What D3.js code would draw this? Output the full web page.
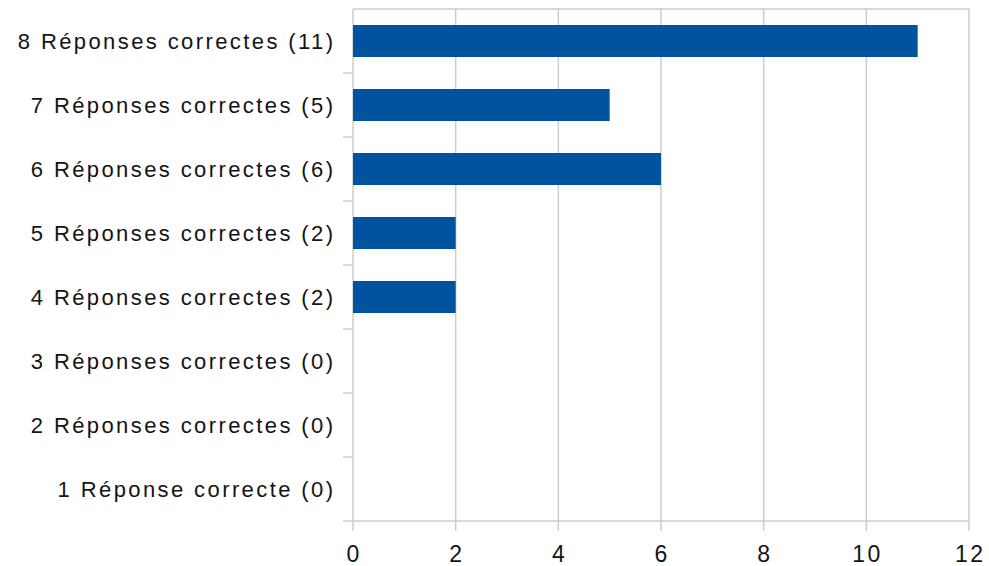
<!DOCTYPE html>
<html>
<head>
<meta charset="utf-8">
<script src="https://cdn.jsdelivr.net/npm/d3@7"></script>
<style>
  body { margin: 0; background: #fff; }
  text { font-family: "Liberation Sans", Arial, sans-serif; }
</style>
</head>
<body>
<svg></svg>
<script>
// categories from top to bottom
var categories = [
  "8 Réponses correctes (11)",
  "7 Réponses correctes (5)",
  "6 Réponses correctes (6)",
  "5 Réponses correctes (2)",
  "4 Réponses correctes (2)",
  "3 Réponses correctes (0)",
  "2 Réponses correctes (0)",
  "1 Réponse correcte (0)"
];
var counts = [11, 5, 6, 2, 2, 0, 0, 0];
var xTicks = [0, 2, 4, 6, 8, 10, 12];

var svgWidth = 989, svgHeight = 566;
var plotLeft = 353, plotRight = 969, plotTop = 9, plotBottom = 521;
var spacing = 2.4;

var svg = d3.select("svg")
    .attr("width", svgWidth)
    .attr("height", svgHeight);

var x = d3.scaleLinear().domain([0, 12]).range([plotLeft, plotRight]);
var y = d3.scaleBand().domain(categories).range([plotTop, plotBottom]).paddingInner(0.5).paddingOuter(0.25);

var gridColor = "#cccccc";

// vertical grid lines
svg.selectAll("line.grid")
    .data(xTicks)
    .enter()
    .append("line")
    .attr("class", "grid")
    .attr("x1", function(d) { return x(d); })
    .attr("x2", function(d) { return x(d); })
    .attr("y1", plotTop)
    .attr("y2", plotBottom + 10)
    .attr("stroke", gridColor)
    .attr("stroke-width", 1.5);

// top border
svg.append("line")
    .attr("x1", plotLeft).attr("x2", plotRight)
    .attr("y1", plotTop).attr("y2", plotTop)
    .attr("stroke", gridColor).attr("stroke-width", 1.5);

// bottom axis line
svg.append("line")
    .attr("x1", plotLeft - 10).attr("x2", plotRight)
    .attr("y1", plotBottom).attr("y2", plotBottom)
    .attr("stroke", gridColor).attr("stroke-width", 1.5);

// category boundary ticks on the left
var bounds = d3.range(1, categories.length).map(function(i) {
  return plotTop + i * (plotBottom - plotTop) / categories.length;
});
svg.selectAll("line.ytick")
    .data(bounds)
    .enter()
    .append("line")
    .attr("class", "ytick")
    .attr("x1", plotLeft - 10).attr("x2", plotLeft)
    .attr("y1", function(d) { return d; })
    .attr("y2", function(d) { return d; })
    .attr("stroke", gridColor).attr("stroke-width", 1.5);

// bars
svg.selectAll("rect")
    .data(counts)
    .enter()
    .append("rect")
    .attr("x", x(0))
    .attr("y", function(d, i) { return y(categories[i]); })
    .attr("width", function(d) { return x(d) - x(0); })
    .attr("height", y.bandwidth())
    .attr("fill", "#00539f");

// category labels
svg.selectAll("text.cat")
    .data(categories)
    .enter()
    .append("text")
    .attr("class", "cat")
    .attr("x", 333 + spacing)
    .attr("y", function(d) { return y(d) + y.bandwidth() / 2; })
    .attr("dy", "0.35em")
    .attr("text-anchor", "end")
    .attr("font-size", 22)
    .attr("letter-spacing", spacing)
    .attr("fill", "#141414")
    .text(function(d) { return d; });

// x tick labels
svg.selectAll("text.xt")
    .data(xTicks)
    .enter()
    .append("text")
    .attr("class", "xt")
    .attr("x", function(d) { return x(d) + spacing / 2; })
    .attr("y", 562)
    .attr("text-anchor", "middle")
    .attr("font-size", 23)
    .attr("letter-spacing", spacing)
    .attr("fill", "#141414")
    .text(function(d) { return d; });
</script>
</body>
</html>
